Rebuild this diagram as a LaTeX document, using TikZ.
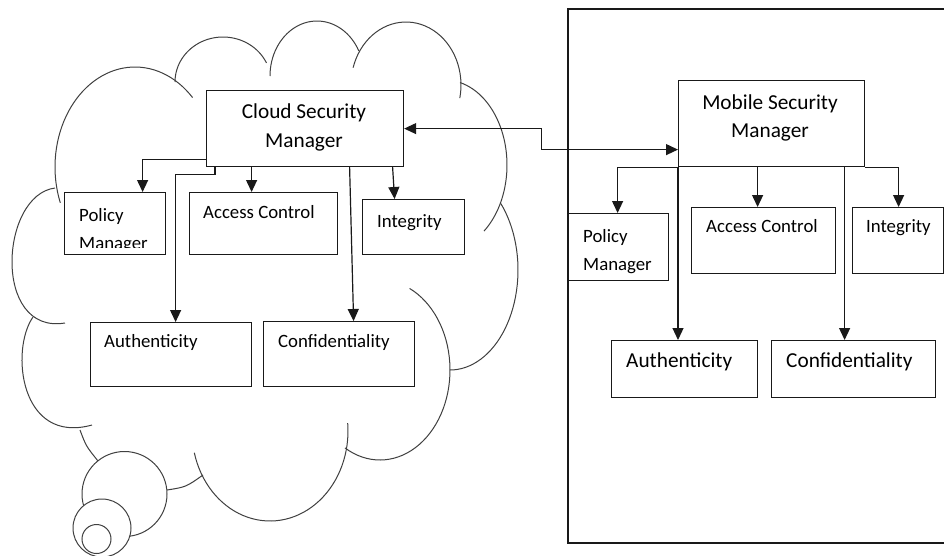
\documentclass[tikz,border=0pt]{standalone}
\usepackage{fontspec}
\setmainfont{Carlito}
\usetikzlibrary{arrows.meta}
\newcommand\fsmall{\fontsize{18.8}{28}\selectfont}
\newcommand\flarge{\fontsize{21.3}{29}\selectfont}
\begin{document}
\begin{tikzpicture}[x=1pt,y=-1pt,
  box/.style={draw=black!90, line width=1.2pt, inner sep=0pt, anchor=north west},
  lbl/.style={anchor=base west, inner sep=0pt, font=\fsmall, text=black},
  lbig/.style={anchor=base west, inner sep=0pt, font=\flarge, text=black},
  ttl/.style={anchor=base, inner sep=0pt, font=\flarge, text=black},
  tip/.tip={Triangle[length=12pt,width=11pt]},
  arr/.style={-tip, line width=1.2pt, draw=black!90},
  darr/.style={tip-tip, line width=1.2pt, draw=black!90},
  cl/.style={line width=1pt, draw=black!75}]
\clip (0,0) rectangle (944,555);
\fill[white] (0,0) rectangle (944,555);

% ---------- cloud outline ----------
\draw[cl] plot[domain=159:316, samples=50, variable=\t] ({135+80*cos(\t)},{167+100*sin(\t)});
\draw[cl] plot[domain=180:335, samples=40, variable=\t] ({223+48*cos(\t)},{82+45*sin(\t)});
\draw[cl] plot[domain=180:333, samples=40, variable=\t] ({317+47*cos(\t)},{76+55*sin(\t)});
\draw[cl] plot[domain=196:372, samples=40, variable=\t] ({406+55*cos(\t)},{85+63*sin(\t)});
\draw[cl] plot[domain=-76:51, samples=40, variable=\t] ({445+62*cos(\t)},{165+85*sin(\t)});
\draw[cl] plot[domain=-42:90, samples=40, variable=\t] ({450+68*cos(\t)},{270+100*sin(\t)});
\draw[cl] plot[domain=-65:120, samples=50, variable=\t] ({380+70*cos(\t)},{370+90*sin(\t)});
\draw[cl] plot[domain=-5:166, samples=50, variable=\t] ({270+78*cos(\t)},{431+90*sin(\t)});
\draw[cl] (33,317) .. controls (10,350) and (20,445) .. (92,425);
\draw[cl] (55,188) .. controls (0,195) and (-8,335) .. (65,323);
\draw[cl] (80,430) .. controls (86,446) .. (98,461);
\draw[cl] (167,490) .. controls (186,487) .. (203,475);
\draw[cl, fill=white] (124.5,494) circle (42.5);
\draw[cl, fill=white] (102,528) circle (29);
\draw[cl, fill=white] (96.5,539) circle (14.5);

% ---------- cloud side boxes ----------
\node[box, minimum width=197pt, minimum height=76pt] (csm) at (206,90) {};
\node[box, minimum width=101pt, minimum height=62pt] (cpol) at (64,192) {};
\node[box, minimum width=148pt, minimum height=62pt] (cacc) at (189,192) {};
\node[box, minimum width=102pt, minimum height=55pt] (cint) at (362,199) {};
\node[box, minimum width=161pt, minimum height=64pt] (caut) at (90,322) {};
\node[box, minimum width=151pt, minimum height=65pt] (ccon) at (263,321) {};

\node[ttl] (csmt1) at (304,118) {Cloud Security};
\node[ttl] (csmt2) at (304,147) {Manager};
\node[lbl] (cpolt1) at (79,221) {Policy};
\begin{scope}
\clip (64,192) rectangle (165,247);
\node[lbl] (cpolt2) at (79,249) {Manager};
\end{scope}
\node[lbl] (cacct) at (203,218) {Access Control};
\node[lbl] (cintt) at (377,227) {Integrity};
\node[lbl] (cautt) at (104,347) {Authenticity};
\node[lbl] (ccont) at (278,347) {Confidentiality};

\draw[arr] ([yshift=8pt]csm.south west) -| ([xshift=27.5pt]cpol.north);
\draw[arr] ([xshift=9pt]csm.south west) -- ++(0,7) -| ([xshift=4.5pt]caut.north);
\draw[arr] ([xshift=-12pt]cacc.north |- csm.south) -- ([xshift=-12pt]cacc.north);
\draw[arr] ([xshift=44.5pt]csm.south) -- ([xshift=14.5pt]ccon.north);
\draw[arr] ([xshift=87.5pt]csm.south) -- ([xshift=-19pt]cint.north);

% ---------- mobile side ----------
\draw[line width=1.2pt, draw=black!90] (568,9) rectangle (950,543);
\node[box, minimum width=186pt, minimum height=86pt] (msm) at (678,80) {};
\node[box, minimum width=100pt, minimum height=67pt] (mpol) at (568,213) {};
\node[box, minimum width=144pt, minimum height=66pt] (macc) at (691,207) {};
\node[box, minimum width=91pt, minimum height=66pt] (mint) at (852,207) {};
\node[box, minimum width=146pt, minimum height=57pt] (maut) at (611,340) {};
\node[box, minimum width=164pt, minimum height=57pt] (mcon) at (771,340) {};

\node[ttl] (msmt1) at (770,109) {Mobile Security};
\node[ttl] (msmt2) at (770,137) {Manager};
\node[lbl] (mpolt1) at (583,242) {Policy};
\node[lbl] (mpolt2) at (583,270) {Manager};
\node[lbl] (macct) at (706,232) {Access Control};
\node[lbl] (mintt) at (866,232) {Integrity};
\node[lbig] (mautt) at (626,367) {Authenticity};
\node[lbig] (mcont) at (786,367) {Confidentiality};

\draw[arr] (msm.south west) -| ([xshift=-1pt]mpol.north);
\draw[arr] (msm.south west) -- (msm.south west |- maut.north);
\draw[arr] ([xshift=-6pt]macc.north |- msm.south) -- ([xshift=-6pt]macc.north);
\draw[arr] ([xshift=-9pt]mcon.north |- msm.south) -- ([xshift=-9pt]mcon.north);
\draw[arr] (msm.south east) -| ([xshift=0.5pt]mint.north);

% ---------- link ----------
\draw[darr] (csm.east) -- ++(137,0) |- ([yshift=-26pt]msm.west);
\end{tikzpicture}
\end{document}
